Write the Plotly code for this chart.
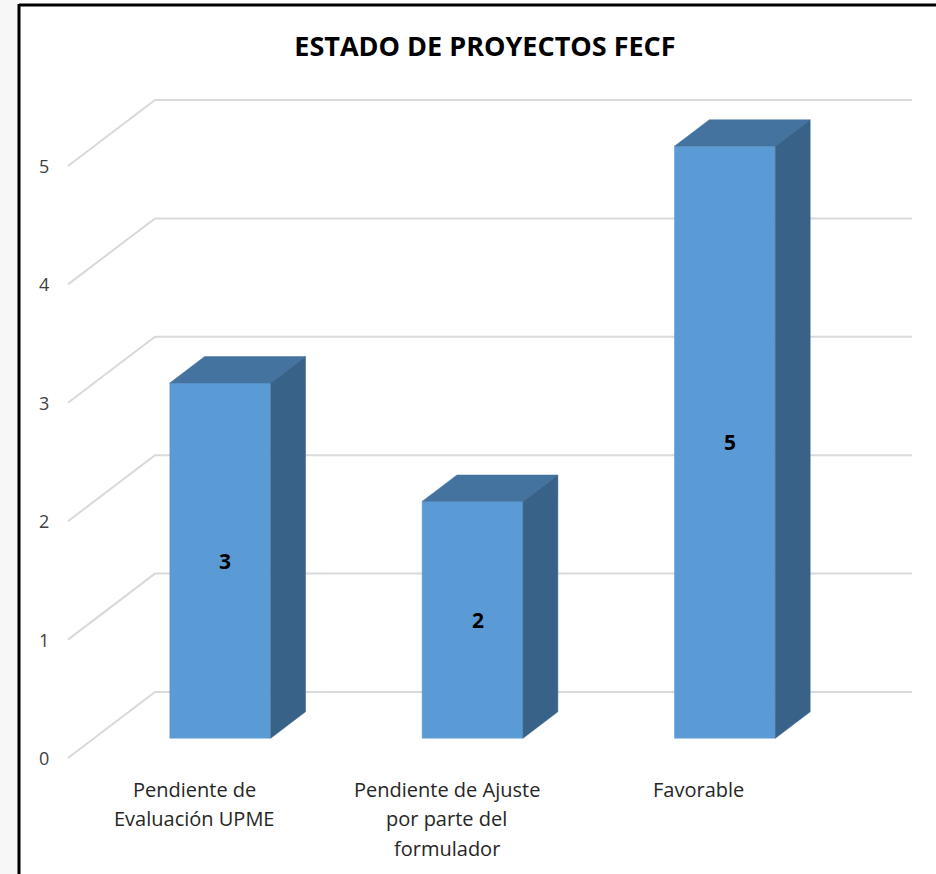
import plotly.graph_objects as go

# ---- data ----
categories = ["Pendiente de\nEvaluación UPME", "Pendiente de Ajuste\npor parte del\nformulador", "Favorable"]
values = [3, 2, 5]
y_ticks = [0, 1, 2, 3, 4, 5]
title_text = "ESTADO DE PROYECTOS FECF"

# ---- style / geometry ----
W, H = 936, 874
DX, DY = 0.3448, 0.5574      # depth offset (full depth) in axis units
Z0, Z1 = 0.30, 0.70          # bar front/back depth
HALF = 0.2                   # bar half width
FRONT_C, TOP_C, SIDE_C = "#5B9BD5", "#44739F", "#386288"
GRID_C = "#D9D9D9"
FONT = "Open Sans"

def P(u, v, z):
    return u + DX * z, v + DY * z

fig = go.Figure()

n = len(categories)
# gridlines: side wall diagonal + back wall horizontal
for t in y_ticks:
    xs, ys = [], []
    for (u, z) in [(-0.5, 0), (-0.5, 1), (n - 0.5, 1)]:
        a, b = P(u, t, z)
        xs.append(a); ys.append(b)
    fig.add_trace(go.Scatter(x=xs, y=ys, mode="lines", line=dict(color=GRID_C, width=2),
                             hoverinfo="skip", showlegend=False))

def face(pts, color):
    xs = [P(*p)[0] for p in pts] + [P(*pts[0])[0]]
    ys = [P(*p)[1] for p in pts] + [P(*pts[0])[1]]
    fig.add_trace(go.Scatter(x=xs, y=ys, mode="lines", fill="toself", fillcolor=color,
                             line=dict(color=color, width=0.5), hoverinfo="skip", showlegend=False))

for i, h in enumerate(values):
    l, r = i - HALF, i + HALF
    face([(l, 0, Z0), (r, 0, Z0), (r, h, Z0), (l, h, Z0)], FRONT_C)
    face([(l, h, Z0), (r, h, Z0), (r, h, Z1), (l, h, Z1)], TOP_C)
    face([(r, 0, Z0), (r, 0, Z1), (r, h, Z1), (r, h, Z0)], SIDE_C)
    cx, cy = P(i, h / 2, Z0)
    fig.add_annotation(x=cx, y=cy, text=str(h), showarrow=False, xshift=5,
                       font=dict(family=FONT, size=21, color="#000000", weight="bold"))

# category labels (each line as text)
for i, lab in enumerate(categories):
    for k, line in enumerate(lab.split("\n")):
        fig.add_annotation(x=i, y=-0.262 - k * 0.25, text=line, showarrow=False,
                           xanchor="center", yanchor="middle",
                           font=dict(family=FONT, size=20, color="#262626"))

# value tick labels at front edge
for t in y_ticks:
    fig.add_annotation(x=-0.595, y=t, text=str(t), showarrow=False,
                       font=dict(family=FONT, size=18, color="#404040"))

# pixel mapping: x=68 -> u=-0.5, 252.33 px/unit ; y=758 -> v=0, 118.4 px/unit
xr = [-0.5 - 68 / 252.33, -0.5 + (W - 68) / 252.33]
yr = [-(H - 758) / 118.4, 758 / 118.4]

fig.update_layout(
    width=W, height=H, margin=dict(l=0, r=0, t=0, b=0),
    paper_bgcolor="white", plot_bgcolor="white",
    xaxis=dict(range=xr, visible=False, fixedrange=True),
    yaxis=dict(range=yr, visible=False, fixedrange=True),
    title=dict(text=title_text, x=485 / W, y=1 - 47 / H, xanchor="center", yanchor="middle",
               font=dict(family=FONT, size=27, color="#000000", weight="bold")),
    shapes=[
        dict(type="rect", xref="paper", yref="paper", x0=0, x1=18 / W, y0=0, y1=1,
             fillcolor="#F7F7F7", line=dict(width=0), layer="below"),
        dict(type="line", xref="paper", yref="paper", x0=19 / W, x1=19 / W, y0=0, y1=1 - 4 / H,
             line=dict(color="black", width=3)),
        dict(type="line", xref="paper", yref="paper", x0=19 / W, x1=1, y0=1 - 5 / H, y1=1 - 5 / H,
             line=dict(color="black", width=3)),
    ],
)

fig.write_html("out.html", config={"displayModeBar": False},
               post_script="document.body.style.margin='0';")
